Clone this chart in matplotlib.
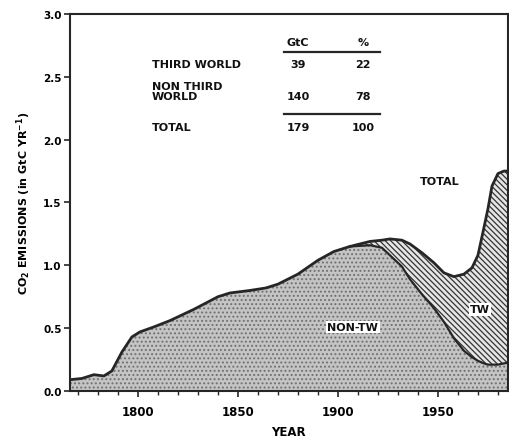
import matplotlib.pyplot as plt
from matplotlib.ticker import MultipleLocator

# upper envelope (total) and the non third world part, GtC per year
years = [1766, 1772, 1778, 1783, 1787, 1792, 1797, 1801, 1808, 1816, 1828,
         1840, 1846, 1856, 1864, 1870, 1880, 1890, 1898, 1906, 1916, 1922,
         1926, 1932, 1936, 1942, 1948, 1953, 1958, 1963, 1967, 1970, 1973,
         1975, 1977, 1980, 1983, 1987]
total = [0.09, 0.10, 0.13, 0.12, 0.16, 0.31, 0.43, 0.47, 0.51, 0.56, 0.65,
         0.75, 0.78, 0.80, 0.82, 0.85, 0.93, 1.04, 1.11, 1.15, 1.19, 1.20,
         1.21, 1.20, 1.17, 1.10, 1.02, 0.94, 0.91, 0.93, 0.98, 1.08, 1.30,
         1.45, 1.63, 1.73, 1.75, 1.75]
non_tw = [0.09, 0.10, 0.13, 0.12, 0.16, 0.31, 0.43, 0.47, 0.51, 0.56, 0.65,
          0.75, 0.78, 0.80, 0.82, 0.85, 0.93, 1.04, 1.11, 1.15, 1.16, 1.14,
          1.08, 0.99, 0.89, 0.77, 0.66, 0.55, 0.42, 0.32, 0.27, 0.24, 0.22,
          0.21, 0.21, 0.21, 0.22, 0.23]

table_rows = ["THIRD WORLD", "NON THIRD\nWORLD", "TOTAL"]
table_gtc = ["39", "140", "179"]
table_pct = ["22", "78", "100"]

x_ticks = [1800, 1850, 1900, 1950]

plt.rcParams["font.family"] = ["DejaVu Sans"]
plt.rcParams["font.weight"] = "bold"
plt.rcParams["hatch.linewidth"] = 0.9

fig = plt.figure(figsize=(5.10, 4.39), dpi=100)
ax = fig.add_axes([0.137, 0.107, 0.859, 0.859])

ink = "#262626"
ax.fill_between(years, 0, non_tw, facecolor="#c4c4c4", edgecolor="#707070",
                hatch="....", linewidth=0)
ax.fill_between(years, non_tw, total, facecolor="#e6e6e6", edgecolor="#333333",
                hatch="\\\\\\\\\\\\", linewidth=0)
ax.plot(years, total, color=ink, linewidth=2)
sep = [i for i, (a, b) in enumerate(zip(total, non_tw)) if a - b > 0.005]
start = sep[0] - 1
ax.plot(years[start:], non_tw[start:], color=ink, linewidth=1.6)

ax.set_xlim(1766, 1985)
ax.set_ylim(0, 3.0)
ax.set_xticks(x_ticks)
ax.xaxis.set_minor_locator(MultipleLocator(10))
ax.yaxis.set_major_locator(MultipleLocator(0.5))
ax.yaxis.set_major_formatter(plt.FuncFormatter(lambda v, p: f"{v:.1f}"))
ax.tick_params(which="major", length=4, width=1.2, color=ink)
ax.tick_params(which="minor", length=3, width=1.0, color=ink)
ax.tick_params(axis="x", labelsize=8.5, pad=6)
ax.tick_params(axis="y", labelsize=7.5, pad=2)
for s in ax.spines.values():
    s.set_linewidth(1.5)
    s.set_color(ink)

ax.set_xlabel("YEAR", fontsize=8.5, fontweight="bold", labelpad=5)
ax.set_ylabel("CO$_2$ EMISSIONS (in GtC YR$^{-1}$)", fontsize=8,
              fontweight="bold", labelpad=7)

# inset table
tf = dict(fontsize=8, fontweight="bold", color="#111111")
ax.text(1880, 2.78, "GtC", ha="center", va="center", **tf)
ax.text(1912.5, 2.78, "%", ha="center", va="center", **tf)
ax.plot([1873, 1921], [2.70, 2.70], color=ink, linewidth=1.6)
row_y = [2.60, 2.385, 2.10]
num_y = [2.60, 2.35, 2.10]
for label, g, p, y, ny in zip(table_rows, table_gtc, table_pct, row_y, num_y):
    ax.text(1807, y, label, ha="left", va="center", linespacing=0.95, **tf)
    ax.text(1880, ny, g, ha="center", va="center", **tf)
    ax.text(1912.5, ny, p, ha="center", va="center", **tf)
ax.plot([1873, 1921], [2.20, 2.20], color=ink, linewidth=1.6)

ax.text(1951, 1.67, "TOTAL", ha="center", va="center", **tf)
box = dict(facecolor="white", edgecolor="none", pad=1)
ax.text(1907.5, 0.51, "NON-TW", ha="center", va="center", bbox=box, **tf)
ax.text(1971, 0.65, "TW", ha="center", va="center", bbox=box, **tf)

fig.savefig("out.png", dpi=100)
